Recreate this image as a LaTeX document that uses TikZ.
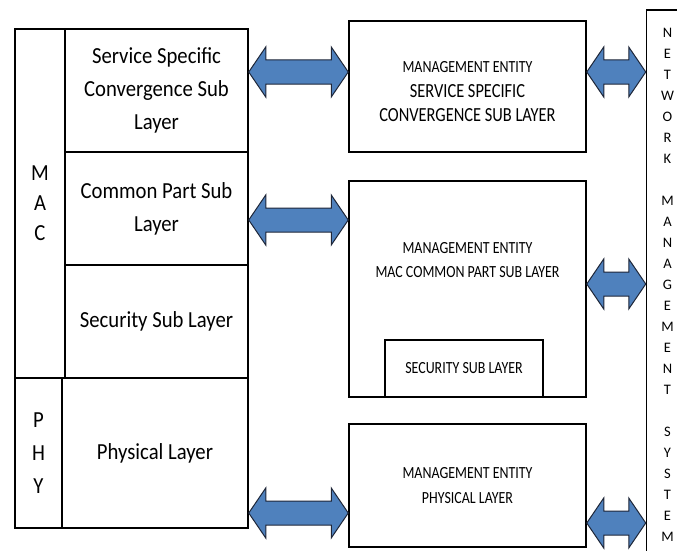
\documentclass[tikz,border=0pt]{standalone}
\usepackage{fontspec}
\setmainfont{Carlito}
\newfontfamily\tallfam{Carlito}[FakeStretch=0.9]
\newfontfamily\narrowfam{Carlito}[FakeStretch=0.82]
\usetikzlibrary{calc}
\definecolor{arrowblue}{RGB}{79,129,189}
\definecolor{arrowline}{RGB}{30,38,56}
% double block arrow between two boxes, at height #3
\newcommand\blockarrow[3]{%
  \draw[blockarr] let \p1=(#1.east), \p2=(#2.west) in
    (\x1,#3) -- ++(17,-25) -- ++(0,13) -- (\x2-17pt,#3-12) -- ++(0,-13) -- (\x2,#3)
    -- ++(-17,25) -- ++(0,-13) -- (\x1+17pt,#3+12) -- ++(0,13) -- cycle;
}
\begin{document}
\begin{tikzpicture}[x=1pt, y=-1pt, line join=miter,
    box/.style={draw, line width=1.5pt, inner sep=0pt, align=center},
    blockarr/.style={fill=arrowblue, draw=arrowline, line width=1pt},
    leftfont/.style={font=\tallfam\fontsize{23}{33}\selectfont},
    midfont/.style={font=\narrowfam\fontsize{17}{24.5}\selectfont},
    ]
    \clip (0,0) rectangle (677,551);
    % left stack
    \node[box, minimum width=50, minimum height=349, font=\tallfam\fontsize{23}{30}\selectfont] (mac) at (40,203.5) {M\\A\\C};
    \node[box, leftfont, minimum width=183, minimum height=123] (sscs) at (156.5,90.5) {Service Specific\\Convergence Sub\\Layer};
    \node[box, leftfont, minimum width=183, minimum height=113] (cps) at (156.5,208.5) {Common Part Sub\\Layer};
    \node[box, leftfont, minimum width=183, minimum height=113] (sec) at (156.5,321.5) {Security Sub Layer};
    \node[box, minimum width=47, minimum height=150, font=\tallfam\fontsize{23}{33}\selectfont] (phy) at (38.5,453) {P\\H\\Y};
    \node[box, leftfont, minimum width=186, minimum height=150] (phyl) at (155,453) {Physical Layer};
    % management entities
    \node[box, minimum width=237, minimum height=131] (mess) at (467.5,86.5) {};
    \node[midfont, align=center] (messtext) at (467.5,92)
      {MANAGEMENT ENTITY\\{\fontsize{20}{25}\selectfont SERVICE SPECIFIC}\\{\fontsize{20}{25}\selectfont CONVERGENCE SUB LAYER}};
    \node[box, minimum width=237, minimum height=216] (memac) at (467.5,289) {};
    \node[midfont, align=center] (memactext) at (467.5,260) {MANAGEMENT ENTITY\\MAC COMMON PART SUB LAYER};
    \node[box, midfont, minimum width=158, minimum height=57] (mesec) at (464,368.5) {SECURITY SUB LAYER};
    \node[box, midfont, minimum width=237, minimum height=123] (mephy) at (467.5,485.5) {MANAGEMENT ENTITY\\PHYSICAL LAYER};
    % network management system
    \node[box, minimum width=42, minimum height=550, font=\fontsize{14.5}{21}\selectfont] (nms) at (667.5,285)
      {N\\E\\T\\W\\O\\R\\K\\[21pt]M\\A\\N\\A\\G\\E\\M\\E\\N\\T\\[21pt]S\\Y\\S\\T\\E\\M};
    % arrows
    \blockarrow{sscs}{mess}{72}
    \blockarrow{cps}{memac}{220}
    \blockarrow{phyl}{mephy}{513}
    \blockarrow{mess}{nms}{72}
    \blockarrow{memac}{nms}{284}
    \blockarrow{mephy}{nms}{523}
\end{tikzpicture}
\end{document}
